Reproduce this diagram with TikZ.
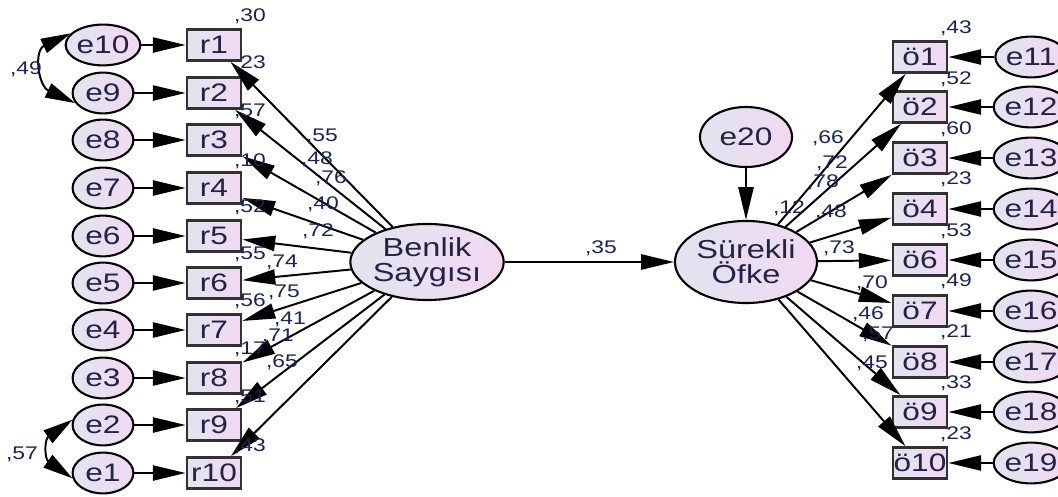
\documentclass[tikz,border=0pt]{standalone}
\usepackage{fontspec}
\setmainfont{Liberation Sans}[FakeStretch=1.25]
\usetikzlibrary{arrows.meta,shapes.geometric}
\definecolor{fillA}{RGB}{226,228,240}
\definecolor{fillB}{RGB}{241,217,242}
\definecolor{boxline}{RGB}{50,50,50}
\definecolor{txt}{RGB}{35,35,70}
\definecolor{lblc}{RGB}{25,35,90}
\tikzset{
    err/.style={ellipse, draw, line width=1.5pt, left color=fillA, right color=fillB,
        minimum width=1.52cm, minimum height=1.02cm, inner sep=0pt, text=txt,
        font=\fontsize{18}{19}\selectfont},
    lat/.style={ellipse, draw, line width=1.5pt, left color=fillA, right color=fillB,
        inner sep=0pt, align=center, text=txt, font=\fontsize{18.5}{18}\selectfont},
    obs/.style={rectangle, draw=boxline, line width=2pt, left color=fillA, right color=fillB,
        minimum width=1.35cm, minimum height=0.77cm, inner sep=0pt, text=txt,
        font=\fontsize{18}{19}\selectfont},
    lbl/.style={inner sep=0pt, text=lblc, font=\fontsize{13}{13}\selectfont},
    arr/.style={-{Triangle[length=0.82cm,width=0.38cm]}, line width=1.4pt},
    cov/.style={{Triangle[length=0.75cm,width=0.38cm]}-{Triangle[length=0.75cm,width=0.38cm]}, line width=1.4pt},
}
\begin{document}
\begin{tikzpicture}[x=0.025cm, y=-0.025cm]
    \useasboundingbox (0,0) rectangle (1058,497);
    \clip (0,0) rectangle (1058,497);
    % left errors
    \node[err](e10) at (103,45)  {e10};
    \node[err](e9)  at (103,93)  {e9};
    \node[err](e8)  at (103,140) {e8};
    \node[err](e7)  at (103,188) {e7};
    \node[err](e6)  at (103,236) {e6};
    \node[err](e5)  at (103,283) {e5};
    \node[err](e4)  at (103,330) {e4};
    \node[err](e3)  at (103,378) {e3};
    \node[err](e2)  at (103,425) {e2};
    \node[err](e1)  at (103,473) {e1};
    % left items
    \node[obs](r1)  at (214,45)  {r1};
    \node[obs](r2)  at (214,93)  {r2};
    \node[obs](r3)  at (214,140) {r3};
    \node[obs](r4)  at (214,188) {r4};
    \node[obs](r5)  at (214,236) {r5};
    \node[obs](r6)  at (214,283) {r6};
    \node[obs](r7)  at (214,330) {r7};
    \node[obs](r8)  at (214,378) {r8};
    \node[obs](r9)  at (214,425) {r9};
    \node[obs](r10) at (214,473) {r10};
    % latent variables
    \node[lat, minimum width=3.5cm, minimum height=1.9cm](BS) at (427,262) {Benlik\\Saygısı};
    \node[lat, minimum width=3.55cm, minimum height=2.05cm](SO) at (746,262) {Sürekli\\Öfke};
    \node[err, minimum width=2.3cm, minimum height=1.5cm](e20) at (746,137) {e20};
    % right items
    \node[obs](o1)  at (920,57)  {ö1};
    \node[obs](o2)  at (920,107) {ö2};
    \node[obs](o3)  at (920,158) {ö3};
    \node[obs](o4)  at (920,209) {ö4};
    \node[obs](o6)  at (920,260) {ö6};
    \node[obs](o7)  at (920,311) {ö7};
    \node[obs](o8)  at (920,362) {ö8};
    \node[obs](o9)  at (920,412) {ö9};
    \node[obs](o10) at (920,463) {ö10};
    % right errors
    \node[err](e11) at (1031,57)  {e11};
    \node[err](e12) at (1031,107) {e12};
    \node[err](e13) at (1031,158) {e13};
    \node[err](e14) at (1031,209) {e14};
    \node[err](e15) at (1031,260) {e15};
    \node[err](e16) at (1031,311) {e16};
    \node[err](e17) at (1031,362) {e17};
    \node[err](e18) at (1031,412) {e18};
    \node[err](e19) at (1031,463) {e19};
    \path[arr]
        (e10) edge (r1)  (e9) edge (r2)  (e8) edge (r3)  (e7) edge (r4)  (e6) edge (r5)
        (e5)  edge (r6)  (e4) edge (r7)  (e3) edge (r8)  (e2) edge (r9)  (e1) edge (r10)
        (BS) edge (r1) edge (r2) edge (r3) edge (r4) edge (r5)
             edge (r6) edge (r7) edge (r8) edge (r9) edge (r10)
             edge (SO)
        (e20) edge (SO)
        (SO) edge (o1) edge (o2) edge (o3) edge (o4) edge (o6)
             edge (o7) edge (o8) edge (o9) edge (o10)
        (e11) edge (o1)  (e12) edge (o2)  (e13) edge (o3)  (e14) edge (o4)  (e15) edge (o6)
        (e16) edge (o7)  (e17) edge (o8)  (e18) edge (o9)  (e19) edge (o10)
        ;
    \draw[cov] (e10.160) to[out=205, in=155, looseness=1.5] (e9.200);
    \draw[cov] (e2.170) to[out=215, in=145, looseness=1.5] (e1.190);
    % covariances and path weights
    \node[lbl](c49) at (26,69)   {,49};
    \node[lbl](c57) at (22,454)  {,57};
    \node[lbl](p35) at (601,248) {,35};
    % squared correlations, left
    \node[lbl](rr1)  at (250,16)  {,30};
    \node[lbl](rr2)  at (250,63)  {,23};
    \node[lbl](rr3)  at (250,111) {,57};
    \node[lbl](rr4)  at (250,161) {,10};
    \node[lbl](rr5)  at (250,207) {,52};
    \node[lbl](rr6)  at (250,254) {,55};
    \node[lbl](rr7)  at (250,301) {,56};
    \node[lbl](rr8)  at (250,349) {,17};
    \node[lbl](rr9)  at (250,397) {,51};
    \node[lbl](rr10) at (250,446) {,43};
    % loadings, left
    \node[lbl](lb1)  at (322,136) {,55};
    \node[lbl](lb2)  at (317,159) {,48};
    \node[lbl](lb3)  at (331,178) {,76};
    \node[lbl](lb4)  at (323,204) {,40};
    \node[lbl](lb5)  at (318,231) {,72};
    \node[lbl](lb6)  at (282,262) {,74};
    \node[lbl](lb7)  at (284,292) {,75};
    \node[lbl](lb8)  at (290,319) {,41};
    \node[lbl](lb9)  at (278,336) {,71};
    \node[lbl](lb10) at (282,362) {,65};
    % squared correlations, right
    \node[lbl](so12) at (789,208) {,12};
    \node[lbl](ro1)  at (956,28)  {,43};
    \node[lbl](ro2)  at (956,79)  {,52};
    \node[lbl](ro3)  at (956,129) {,60};
    \node[lbl](ro4)  at (956,179) {,23};
    \node[lbl](ro6)  at (956,231) {,53};
    \node[lbl](ro7)  at (956,281) {,49};
    \node[lbl](ro8)  at (956,332) {,21};
    \node[lbl](ro9)  at (956,383) {,33};
    \node[lbl](ro10) at (956,434) {,23};
    % loadings, right
    \node[lbl](lo1)  at (828,138) {,66};
    \node[lbl](lo2)  at (832,163) {,72};
    \node[lbl](lo3)  at (823,182) {,78};
    \node[lbl](lo4)  at (831,212) {,48};
    \node[lbl](lo6)  at (839,248) {,73};
    \node[lbl](lo7)  at (872,283) {,70};
    \node[lbl](lo8)  at (868,314) {,46};
    \node[lbl](lo9)  at (878,334) {,57};
    \node[lbl](lo10) at (872,363) {,45};
\end{tikzpicture}
\end{document}
